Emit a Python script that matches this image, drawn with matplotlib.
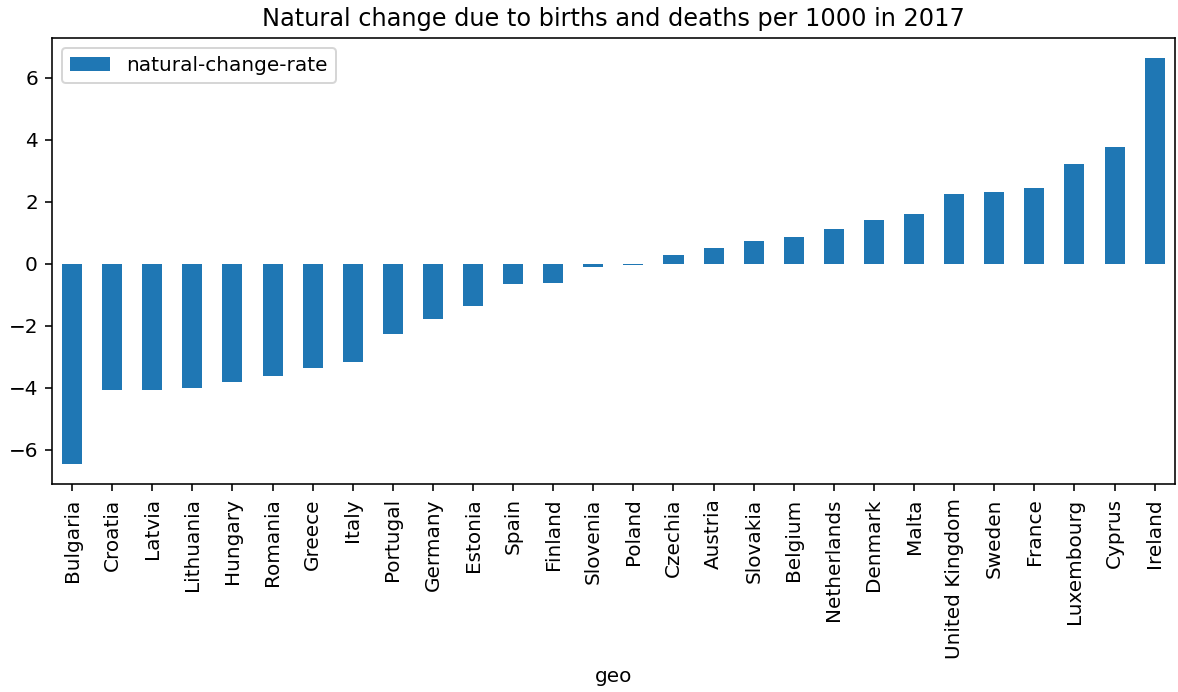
import pandas as pd
import matplotlib
matplotlib.use('Agg')
import matplotlib.pyplot as plt

# Natural change per 1000 inhabitants, 2017
geo = ['Bulgaria', 'Croatia', 'Latvia', 'Lithuania', 'Hungary', 'Romania',
       'Greece', 'Italy', 'Portugal', 'Germany', 'Estonia', 'Spain',
       'Finland', 'Slovenia', 'Poland', 'Czechia', 'Austria', 'Slovakia',
       'Belgium', 'Netherlands', 'Denmark', 'Malta', 'United Kingdom',
       'Sweden', 'France', 'Luxembourg', 'Cyprus', 'Ireland']
rate = [-6.46, -4.08, -4.06, -4.01, -3.81, -3.63,
        -3.35, -3.16, -2.28, -1.80, -1.35, -0.67,
        -0.61, -0.12, -0.04, 0.29, 0.49, 0.74,
        0.86, 1.12, 1.41, 1.61, 2.24,
        2.32, 2.44, 3.22, 3.76, 6.62]

df = pd.DataFrame({'geo': geo, 'natural-change-rate': rate}).set_index('geo')

fig = plt.figure(figsize=(1178 / 144, 692 / 144), dpi=144)
ax = fig.add_subplot(111)
df.plot.bar(ax=ax)
ax.set_title('Natural change due to births and deaths per 1000 in 2017')
ax.legend(loc='upper left')

fig.subplots_adjust(left=52 / 1178, right=1174.7 / 1178,
                    top=1 - 38 / 692, bottom=1 - 484.3 / 692)
fig.savefig('out.png', dpi=144)
